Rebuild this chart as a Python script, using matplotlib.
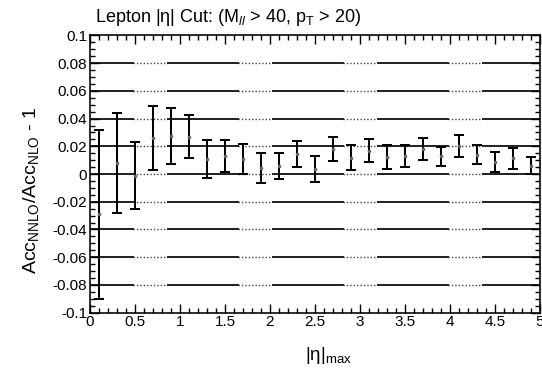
import matplotlib.pyplot as plt
import numpy as np
from matplotlib.ticker import MultipleLocator, FuncFormatter

# |eta| cut value (bin centres) and the NNLO/NLO acceptance ratio minus one
eta_max = [0.1, 0.3, 0.5, 0.7, 0.9, 1.1, 1.3, 1.5, 1.7, 1.9, 2.1, 2.3, 2.5,
           2.7, 2.9, 3.1, 3.3, 3.5, 3.7, 3.9, 4.1, 4.3, 4.5, 4.7, 4.9]
ratio = [-0.029, 0.008, -0.0013, 0.026, 0.0275, 0.027, 0.011, 0.0132, 0.0108,
         0.0043, 0.006, 0.0143, 0.0038, 0.018, 0.0118, 0.0167, 0.0123, 0.0128,
         0.018, 0.0127, 0.020, 0.0139, 0.0087, 0.0113, 0.0061]
ratio_err = [0.061, 0.0358, 0.0242, 0.0231, 0.0203, 0.0157, 0.0137, 0.0115,
             0.011, 0.011, 0.0094, 0.0095, 0.0094, 0.0088, 0.0089, 0.0083,
             0.0085, 0.008, 0.0077, 0.0066, 0.008, 0.0069, 0.007, 0.0075, 0.006]
grid_levels = [-0.08, -0.06, -0.04, -0.02, 0.0, 0.02, 0.04, 0.06, 0.08]

plt.rcParams["font.family"] = ["Liberation Sans", "DejaVu Sans"]
plt.rcParams["mathtext.fontset"] = "custom"
plt.rcParams["mathtext.rm"] = "Liberation Sans"
plt.rcParams["mathtext.it"] = "Liberation Sans:italic"
plt.rcParams["axes.unicode_minus"] = False
plt.rcParams["lines.scale_dashes"] = False

DPI = 100
PT = 72.0 / DPI  # points per pixel


def tick_fmt(v, pos):
    v = round(v, 3) + 0.0
    return f"{v:g}"


fig = plt.figure(figsize=(5.42, 3.73), dpi=DPI)
ax = fig.add_axes([0.166, 0.162, 0.8303, 0.743])

# horizontal reference lines: long solid dashes with a dotted run in the gaps
solid_dash = (28 * PT, (72 * PT, 33 * PT))
dots = []
for _ in range(10):
    dots += [1.3 * PT, 2.1 * PT]
dots[-1] += 71 * PT
dotted_dash = (62 * PT, tuple(dots))
for lvl in grid_levels:
    ax.axhline(lvl, color="#1a1a1a", lw=1.9 * PT, linestyle=solid_dash, zorder=1)
    ax.axhline(lvl, color="#3a3a3a", lw=1.4 * PT, linestyle=dotted_dash, zorder=1)

ax.errorbar(eta_max, ratio, yerr=ratio_err, fmt="o", ms=1.6, color="#666666",
            ecolor="black", elinewidth=2.0 * PT, capsize=5 * PT,
            capthick=2.0 * PT, zorder=3)

ax.set_xlim(0, 5)
ax.set_ylim(-0.1, 0.1)
ax.xaxis.set_major_locator(MultipleLocator(0.5))
ax.xaxis.set_minor_locator(MultipleLocator(0.1))
ax.yaxis.set_major_locator(MultipleLocator(0.02))
ax.yaxis.set_minor_locator(MultipleLocator(0.005))
ax.xaxis.set_major_formatter(FuncFormatter(tick_fmt))
ax.yaxis.set_major_formatter(FuncFormatter(tick_fmt))

ax.tick_params(which="both", direction="in", top=True, right=True,
               width=1.4 * PT, labelsize=11, colors="black")
ax.tick_params(which="major", length=9 * PT, pad=2)
ax.tick_params(which="minor", length=5 * PT)
for s in ax.spines.values():
    s.set_linewidth(1.6 * PT)

fig.text(0.175, 0.94, "Lepton |η| Cut: (M$_{ll}$ > 40, p$_\\mathrm{T}$ > 20)",
         fontsize=13, ha="left", va="baseline")
fig.text(0.058, 0.49, "Acc$_\\mathrm{NNLO}$/Acc$_\\mathrm{NLO}$ - 1",
         fontsize=14, rotation=90, ha="center", va="center")
fig.text(0.563, 0.035, "|η|$_\\mathrm{max}$", fontsize=13.5, ha="left",
         va="baseline")

fig.savefig("out.png", dpi=DPI)
